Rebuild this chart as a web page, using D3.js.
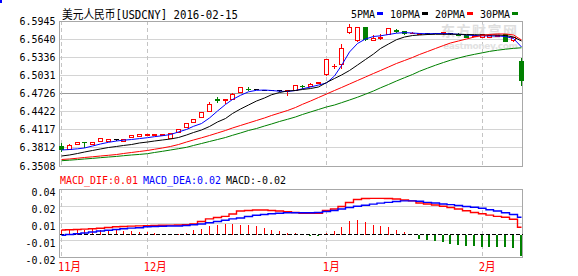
<!DOCTYPE html>
<html><head><meta charset="utf-8">
<script src="https://cdn.jsdelivr.net/npm/d3@7"></script>
<style>html,body{margin:0;padding:0;background:#fff;overflow:hidden}</style>
</head><body><svg id="c" width="578" height="276"></svg>
<script>
const title = "美元人民币[USDCNY] 2016-02-15";
const dates = [
"2015-11-16","2015-11-17","2015-11-18","2015-11-19","2015-11-20","2015-11-23","2015-11-24","2015-11-25","2015-11-26","2015-11-27","2015-11-30",
"2015-12-01","2015-12-02","2015-12-03","2015-12-04","2015-12-07","2015-12-08","2015-12-09","2015-12-10","2015-12-11","2015-12-14","2015-12-15","2015-12-16","2015-12-17","2015-12-18","2015-12-21","2015-12-22","2015-12-23","2015-12-24","2015-12-25","2015-12-28","2015-12-29","2015-12-30","2015-12-31",
"2016-01-04","2016-01-05","2016-01-06","2016-01-07","2016-01-08","2016-01-11","2016-01-12","2016-01-13","2016-01-14","2016-01-15","2016-01-18","2016-01-19","2016-01-20","2016-01-21","2016-01-22","2016-01-25","2016-01-26","2016-01-27","2016-01-28","2016-01-29",
"2016-02-01","2016-02-02","2016-02-03","2016-02-04","2016-02-05","2016-02-15"];
const open = [6.3839,6.3789,6.3866,6.3900,6.3866,6.3923,6.3923,6.3945,6.3923,6.3984,
 6.4012,6.4029,6.4029,6.4029,6.3974,6.4068,6.4158,6.4236,6.4327,6.4421,
 6.4626,6.4609,6.4629,6.4740,6.4802,6.4797,6.4777,6.4780,6.4769,6.4760,
 6.4774,6.4844,6.4841,6.4898,6.5054,6.5172,6.5217,6.5755,6.5609,6.5839,
 6.5609,6.5643,6.5722,6.5785,6.5765,6.5735,6.5722,6.5727,6.5732,6.5735,
 6.5727,6.5718,6.5705,6.5685,6.5664,6.5676,6.5685,6.5710,6.5609,6.5261];
const close = [6.3789,6.3856,6.3900,6.3895,6.3900,6.3967,6.3957,6.3945,6.3950,6.4024,
 6.4041,6.4041,6.4041,6.4041,6.4058,6.4125,6.4214,6.4293,6.4404,6.4550,
 6.4609,6.4626,6.4718,6.4819,6.4790,6.4797,6.4777,6.4780,6.4769,6.4769,
 6.4853,6.4836,6.4886,6.4908,6.5290,6.5180,6.5486,6.5832,6.5832,6.5626,
 6.5643,6.5671,6.5811,6.5769,6.5727,6.5743,6.5735,6.5727,6.5732,6.5752,
 6.5727,6.5705,6.5664,6.5696,6.5718,6.5701,6.5701,6.5597,6.5664,6.4937];
const high = [6.3883,6.3861,6.3911,6.3900,6.3905,6.3970,6.3960,6.3950,6.3953,6.4028,
 6.4045,6.4043,6.4043,6.4043,6.4060,6.4128,6.4218,6.4297,6.4410,6.4572,
 6.4659,6.4626,6.4722,6.4823,6.4827,6.4800,6.4780,6.4783,6.4772,6.4769,
 6.4856,6.4869,6.4889,6.4910,6.5306,6.5206,6.5542,6.5878,6.5836,6.5843,
 6.5701,6.5722,6.5815,6.5802,6.5768,6.5746,6.5738,6.5730,6.5735,6.5752,
 6.5730,6.5735,6.5708,6.5699,6.5722,6.5704,6.5704,6.5713,6.5667,6.5318];
const low = [6.3755,6.3777,6.3861,6.3827,6.3862,6.3920,6.3920,6.3940,6.3920,6.3980,
 6.4010,6.4027,6.4027,6.4027,6.3970,6.4065,6.4155,6.4233,6.4322,6.4416,
 6.4575,6.4562,6.4625,6.4736,6.4769,6.4794,6.4774,6.4777,6.4766,6.4701,
 6.4770,6.4811,6.4838,6.4895,6.5037,6.5147,6.5155,6.5727,6.5605,6.5622,
 6.5609,6.5640,6.5718,6.5752,6.5724,6.5732,6.5719,6.5724,6.5729,6.5710,
 6.5724,6.5693,6.5661,6.5682,6.5660,6.5673,6.5682,6.5594,6.5605,6.4869];
const ma5 = [6.3777,6.3785,6.3797,6.3811,6.3844,6.3878,6.3906,6.3928,6.3942,6.3953,
 6.3969,6.3984,6.4001,6.4017,6.4037,6.4080,6.4122,6.4175,6.4222,6.4315,
 6.4432,6.4542,6.4626,6.4696,6.4755,6.4780,6.4785,6.4777,6.4765,6.4760,
 6.4777,6.4806,6.4836,6.4869,6.4903,6.5021,6.5197,6.5424,6.5567,6.5643,
 6.5685,6.5696,6.5718,6.5740,6.5750,6.5743,6.5735,6.5730,6.5735,6.5735,
 6.5730,6.5722,6.5710,6.5701,6.5696,6.5693,6.5693,6.5685,6.5651,6.5508];
const ma10 = [6.3676,6.3693,6.3718,6.3743,6.3769,6.3794,6.3819,6.3836,6.3853,6.3869,
 6.3895,6.3911,6.3928,6.3945,6.3962,6.3987,6.4029,6.4071,6.4113,6.4172,
 6.4248,6.4306,6.4390,6.4466,6.4533,6.4600,6.4651,6.4705,6.4743,6.4769,
 6.4777,6.4794,6.4810,6.4836,6.4911,6.4979,6.5037,6.5113,6.5205,6.5298,
 6.5390,6.5483,6.5558,6.5631,6.5676,6.5701,6.5710,6.5718,6.5722,6.5722,
 6.5722,6.5722,6.5718,6.5715,6.5710,6.5710,6.5710,6.5701,6.5676,6.5609];
const ma20 = [6.3617,6.3626,6.3639,6.3651,6.3663,6.3676,6.3688,6.3701,6.3718,6.3735,
 6.3752,6.3769,6.3789,6.3811,6.3836,6.3869,6.3911,6.3945,6.3982,6.4021,
 6.4063,6.4105,6.4147,6.4189,6.4231,6.4273,6.4315,6.4357,6.4399,6.4441,
 6.4491,6.4545,6.4600,6.4659,6.4718,6.4777,6.4827,6.4886,6.4945,6.5004,
 6.5063,6.5113,6.5172,6.5231,6.5281,6.5332,6.5382,6.5432,6.5483,6.5533,
 6.5575,6.5609,6.5643,6.5676,6.5701,6.5718,6.5727,6.5727,6.5710,6.5626];
const ma30 = [6.3597,6.3606,6.3616,6.3626,6.3636,6.3648,6.3659,6.3669,6.3681,6.3693,
 6.3703,6.3715,6.3735,6.3755,6.3777,6.3799,6.3822,6.3853,6.3886,6.3920,
 6.3953,6.3987,6.4024,6.4063,6.4105,6.4138,6.4180,6.4214,6.4256,6.4293,
 6.4332,6.4374,6.4416,6.4458,6.4500,6.4533,6.4572,6.4617,6.4664,6.4715,
 6.4769,6.4822,6.4878,6.4937,6.4992,6.5046,6.5100,6.5152,6.5202,6.5248,
 6.5286,6.5323,6.5357,6.5385,6.5411,6.5434,6.5454,6.5471,6.5485,6.5495];
const dif = [0.0039,0.0040,0.0042,0.0045,0.0048,0.0052,0.0058,0.0063,0.0066,0.0068,
 0.0070,0.0072,0.0073,0.0075,0.0076,0.0077,0.0080,0.0085,0.0104,0.0124,
 0.0135,0.0144,0.0162,0.0185,0.0189,0.0193,0.0193,0.0189,0.0185,0.0180,
 0.0174,0.0168,0.0168,0.0168,0.0189,0.0201,0.0220,0.0251,0.0274,0.0282,
 0.0283,0.0283,0.0282,0.0278,0.0270,0.0263,0.0247,0.0239,0.0232,0.0222,
 0.0212,0.0201,0.0187,0.0174,0.0164,0.0153,0.0144,0.0137,0.0121,0.0060];
const dea = [-0.0002,0.0004,0.0010,0.0015,0.0023,0.0031,0.0037,0.0042,0.0048,0.0053,
 0.0056,0.0064,0.0066,0.0067,0.0069,0.0069,0.0073,0.0079,0.0085,0.0094,
 0.0104,0.0114,0.0124,0.0131,0.0143,0.0152,0.0158,0.0164,0.0168,0.0172,
 0.0172,0.0172,0.0172,0.0174,0.0181,0.0189,0.0201,0.0212,0.0222,0.0229,
 0.0238,0.0246,0.0252,0.0259,0.0263,0.0263,0.0260,0.0252,0.0247,0.0239,
 0.0234,0.0228,0.0220,0.0214,0.0206,0.0195,0.0185,0.0172,0.0158,0.0137];
const macd = [0.0041,0.0046,0.0046,0.0041,0.0046,0.0041,0.0041,0.0036,0.0029,0.0029,
 0.0021,0.0021,0.0015,0.0010,0.0008,0.0008,0.0015,0.0036,0.0046,0.0067,
 0.0080,0.0085,0.0085,0.0080,0.0075,0.0067,0.0054,0.0041,0.0029,0.0019,
 0.0012,0.0004,-0.0008,-0.0008,0.0015,0.0029,0.0059,0.0106,0.0118,0.0098,
 0.0080,0.0067,0.0059,0.0041,0.0021,-0.0002,-0.0031,-0.0036,-0.0049,-0.0056,
 -0.0067,-0.0075,-0.0083,-0.0087,-0.0093,-0.0093,-0.0093,-0.0093,-0.0098,-0.0164];
const priceTicks = ["6.5945","6.5640","6.5336","6.5031","6.4726","6.4422","6.4117","6.3812","6.3508"];
const macdTicks = ["0.04","0.02","0.01","-0.01","-0.02"];
const macdDomain = [-0.017, 0.0355];
const monthLabels = ["11月","12月","1月","2月"];
const legendLabels = ["5PMA","10PMA","20PMA","30PMA"];
const macdLegend = ["MACD_DIF:0.01","MACD_DEA:0.02","MACD:-0.02"];

const RED="#ff0000", GREEN="#008000", BLUE="#0000ff", BLACK="#000000";
const MONO = "'DejaVu Sans Mono','Noto Sans CJK SC',monospace";
const svg = d3.select("#c");
const L = 59.5, R = 522.5;
const x = d3.scaleBand().domain(dates).range([57.1, 524.5]).padding(0);
const cx = d => Math.round(x(d) + x.bandwidth()/2) + 0.5;
const y = d3.scaleLinear().domain([6.3508, 6.5945]).range([166, 21]);
const ym = d3.scaleLinear().domain(macdDomain).range([257, 189]);
const py = v => Math.floor(y(v)) + 0.5;
const pym = v => Math.floor(ym(v)) + 0.5;

svg.append("rect").attr("x",0).attr("y",0).attr("width",2).attr("height",3).attr("fill",BLUE);

// ---- main axis / grid
const gy = svg.append("g").attr("transform",`translate(${L},0)`)
  .call(d3.axisLeft(y).tickValues(priceTicks.map(Number)).tickFormat((d,i)=>priceTicks[i])
        .tickSize(-(R-L)).tickPadding(4));
gy.select(".domain").remove();
gy.selectAll(".tick").attr("transform", d => `translate(0,${py(d)})`);
gy.selectAll(".tick line").attr("stroke", (d,i)=> i===4 ? "#999" : "#d4d4d4").attr("shape-rendering","crispEdges");
gy.selectAll(".tick text").attr("font-family",MONO).attr("font-size",11).attr("fill","#000")
  .attr("textLength",36).attr("lengthAdjust","spacingAndGlyphs").attr("dy",3.6);

// ---- macd axis / grid
const macdPos = macdTicks.map((t,i)=> macdDomain[1] - i*(macdDomain[1]-macdDomain[0])/4);
const gm = svg.append("g").attr("transform",`translate(${L},0)`)
  .call(d3.axisLeft(ym).tickValues(macdPos).tickFormat((d,i)=>macdTicks[i])
        .tickSize(-(R-L)).tickPadding(4));
gm.select(".domain").remove();
gm.selectAll(".tick").attr("transform", d => `translate(0,${pym(d)})`);
gm.selectAll(".tick line").attr("stroke","#d4d4d4").attr("shape-rendering","crispEdges");
gm.selectAll(".tick text").attr("font-family",MONO).attr("font-size",11).attr("fill","#000")
  .attr("textLength",d=>macdTicks[macdPos.indexOf(d)].length*6).attr("lengthAdjust","spacingAndGlyphs").attr("dy",6.5);

// ---- month lines
const monthFirst = dates.filter((d,i)=> i===0 || d.slice(0,7)!==dates[i-1].slice(0,7));
[[21,166],[189,257]].forEach(([a,b])=>{
  svg.append("g").selectAll("line").data(monthFirst).join("line")
    .attr("x1",cx).attr("x2",cx).attr("y1",a).attr("y2",b)
    .attr("stroke","#c4c4c4").attr("stroke-dasharray","4,3").attr("shape-rendering","crispEdges");
});

// ---- frames
[[21.5,166.5],[189.5,257.5]].forEach(([a,b])=>{
  svg.append("rect").attr("x",L).attr("y",a).attr("width",R-L).attr("height",b-a)
    .attr("fill","none").attr("stroke","#a8a8a8").attr("shape-rendering","crispEdges");
});

// ---- watermark
svg.append("text").attr("x",441).attr("y",36).attr("font-family","'Noto Sans CJK SC'").attr("font-weight","bold")
  .attr("font-size",14).attr("fill","#dedede").attr("textLength",76).text("东方财富网");
svg.append("text").attr("x",443).attr("y",49).attr("font-family","'DejaVu Sans'").attr("font-weight","bold")
  .attr("font-size",9).attr("fill","#e2e2e2").attr("textLength",75).text("eastmoney.com");

// ---- candles
const cdata = dates.map((d,i)=>({d,o:open[i],c:close[i],h:high[i],l:low[i]}));
const col = k => k.c>k.o ? RED : (k.c<k.o ? GREEN : BLACK);
const cg = svg.append("g").attr("shape-rendering","crispEdges");
cg.selectAll("line.w").data(cdata).join("line").attr("class","w")
  .attr("x1",k=>cx(k.d)).attr("x2",k=>cx(k.d)).attr("y1",k=>py(k.h)-0.5).attr("y2",k=>py(k.l)+0.5)
  .attr("stroke",col);
cdata.forEach(k=>{
  const c = cx(k.d), t = py(Math.max(k.o,k.c)), b = py(Math.min(k.o,k.c)), h = b-t;
  if (h < 1) {
    cg.append("line").attr("x1",c-2.5).attr("x2",c+2.5).attr("y1",t).attr("y2",t).attr("stroke",col(k));
  } else if (k.c>k.o) {
    cg.append("rect").attr("x",c-2).attr("y",t).attr("width",4).attr("height",h)
      .attr("fill","#fff").attr("stroke",RED);
  } else {
    cg.append("rect").attr("x",c-2.5).attr("y",t-0.5).attr("width",5).attr("height",h+1)
      .attr("fill",col(k));
  }
});

// ---- MA lines
[[ma5,BLUE],[ma10,BLACK],[ma20,RED],[ma30,GREEN]].forEach(([arr,c])=>{
  svg.append("path").datum(arr).attr("fill","none").attr("stroke",c).attr("stroke-width",1)
    .attr("d", d3.line().x((v,i)=>cx(dates[i])).y(v=>y(v)));
});

// ---- MACD histogram
const z = pym(0);
svg.append("g").selectAll("line").data(macd).join("line")
  .attr("x1",(v,i)=> v<0 ? cx(dates[i])-0.5 : cx(dates[i]))
  .attr("x2",(v,i)=> v<0 ? cx(dates[i])-0.5 : cx(dates[i]))
  .attr("y1",z).attr("y2",v=>ym(v))
  .attr("stroke",v=> v<0 ? GREEN : RED).attr("stroke-width",v=> v<0 ? 2 : 1)
  .attr("shape-rendering","crispEdges");
svg.append("line").attr("x1",L).attr("x2",R).attr("y1",z).attr("y2",z)
  .attr("stroke","#000").attr("stroke-dasharray","4,2").attr("shape-rendering","crispEdges");
[[dif,RED],[dea,BLUE]].forEach(([arr,c])=>{
  svg.append("path").datum(arr).attr("fill","none").attr("stroke",c).attr("stroke-width",1.4)
    .attr("d", d3.line().x((v,i)=>cx(dates[i])).y(v=>ym(v)).curve(d3.curveStep));
});

// ---- x axis (months)
const gx = svg.append("g").attr("transform","translate(0,257)")
  .call(d3.axisBottom(x).tickValues(monthFirst).tickFormat((d,i)=>monthLabels[i]).tickSize(0).tickPadding(5));
gx.select(".domain").remove();
gx.selectAll(".tick text").attr("font-family",MONO).attr("font-size",12).attr("fill",RED)
  .attr("text-anchor","start").attr("dx",-3)
  .attr("textLength",(d,i)=> monthLabels[i].length===3 ? 23 : 17).attr("lengthAdjust","spacingAndGlyphs");

// ---- title
svg.append("text").attr("x",62).attr("y",18.5).attr("font-family",MONO).attr("font-size",12)
  .attr("fill","#000").attr("textLength",176).attr("lengthAdjust","spacingAndGlyphs").text(title);

// ---- legend
const legColors = [BLUE,BLACK,RED,GREEN];
let lx = 351;
legendLabels.forEach((s,i)=>{
  svg.append("text").attr("x",lx).attr("y",17.5).attr("font-family",MONO).attr("font-size",10)
    .attr("fill","#000").attr("textLength",s.length*6).attr("lengthAdjust","spacingAndGlyphs").text(s);
  lx += s.length*6 + 2;
  svg.append("rect").attr("x",lx).attr("y",12).attr("width",6).attr("height",3).attr("fill",legColors[i]);
  lx += 6 + 7;
});

// ---- MACD legend
const mlColors = [RED,BLUE,BLACK];
let mx = 60;
macdLegend.forEach((s,i)=>{
  svg.append("text").attr("x",mx).attr("y",183.5).attr("font-family",MONO).attr("font-size",11)
    .attr("fill",mlColors[i]).attr("textLength",s.length*6).attr("lengthAdjust","spacingAndGlyphs").text(s);
  mx += s.length*6 + 5;
});
</script></body></html>
